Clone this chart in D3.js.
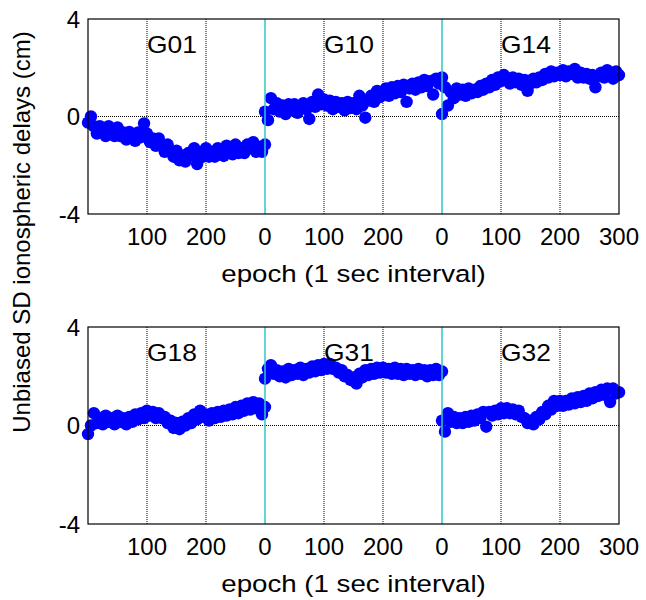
<!DOCTYPE html>
<html>
<head>
<meta charset="utf-8">
<script src="https://cdn.jsdelivr.net/npm/d3@7"></script>
<style>
  body { margin: 0; background: #fff; }
  text { font-family: "Liberation Sans", Arial, sans-serif; fill: #000; }
</style>
</head>
<body>
<div id="chart"></div>
<script>
// epochs sampled every 5 s within each 300 s satellite arc
const epochs = d3.range(0, 301, 5);

const g01 = [-0.25,0.0,-0.4,-0.7,-0.4,-0.6,-0.8,-0.4,-0.62,-0.8,
  -0.45,-0.8,-0.65,-0.95,-0.63,-0.85,-1.0,-0.65,-0.85,-0.28,
  -0.7,-1.05,-0.9,-1.2,-0.9,-1.2,-1.45,-1.15,-1.45,-1.65,
  -1.4,-1.8,-1.6,-1.85,-1.5,-1.6,-1.3,-1.95,-1.55,-1.65,
  -1.3,-1.65,-1.45,-1.65,-1.3,-1.5,-1.62,-1.2,-1.4,-1.55,
  -1.15,-1.5,-1.3,-1.5,-1.15,-1.3,-1.05,-1.45,-1.25,-1.45,-1.15];
const g10 = [0.2,-0.15,0.75,0.3,0.55,0.2,0.45,0.1,0.5,0.25,
  0.5,0.15,0.35,0.55,0.3,-0.1,0.6,0.4,0.9,0.5,
  0.7,0.45,0.65,0.3,0.6,0.4,0.55,0.25,0.6,0.35,
  0.55,0.3,0.85,0.45,-0.05,0.65,0.85,0.6,1.05,0.8,
  0.95,1.15,0.85,1.2,0.95,1.25,1.0,1.3,0.6,1.15,
  1.35,1.1,1.4,1.2,1.5,1.25,1.45,0.9,1.55,1.35,1.6];
const g14 = [0.1,1.2,0.45,1.0,0.75,1.15,0.9,1.1,0.85,1.15,
  0.95,1.1,1.0,1.25,1.1,1.35,1.2,1.5,1.3,1.6,
  1.45,1.7,1.5,1.35,1.6,1.4,1.55,1.3,1.5,1.05,
  1.35,1.55,1.4,1.6,1.5,1.75,1.6,1.85,1.65,1.8,
  1.7,1.9,1.65,1.85,1.75,1.95,1.6,1.8,1.6,1.75,
  1.55,1.7,1.2,1.65,1.8,1.6,1.9,1.75,1.55,1.85,1.7];
const g18 = [-0.35,0.0,0.5,0.1,0.3,0.05,0.4,0.15,0.3,0.05,
  0.4,0.15,0.3,0.05,0.35,0.15,0.45,0.25,0.5,0.3,
  0.6,0.4,0.55,0.3,0.5,0.3,0.35,0.1,0.2,-0.1,
  0.1,-0.15,0.15,0.0,0.3,0.1,0.45,0.25,0.6,0.35,
  0.45,0.2,0.5,0.3,0.55,0.35,0.6,0.4,0.65,0.45,
  0.75,0.5,0.8,0.6,0.9,0.65,0.95,0.7,0.9,0.45,0.75];
const g31 = [1.9,2.3,2.45,2.1,2.25,2.0,2.2,1.95,2.3,2.05,
  2.25,2.1,2.35,2.05,2.3,2.15,2.4,2.2,2.45,2.25,
  2.5,2.3,2.5,2.3,2.35,2.15,2.25,2.0,2.05,1.85,
  1.95,1.7,2.1,1.95,2.25,2.05,2.3,2.1,2.35,2.15,
  2.35,2.15,2.3,2.1,2.35,2.1,2.3,2.05,2.3,2.1,
  2.25,2.05,2.3,2.1,2.25,2.0,2.25,2.05,2.3,2.05,2.2];
const g32 = [0.2,-0.25,0.5,0.15,0.35,0.1,0.3,0.1,0.35,0.15,
  0.4,0.2,0.45,0.3,0.55,-0.05,0.55,0.4,0.6,0.45,
  0.7,0.5,0.7,0.5,0.65,0.45,0.6,0.35,0.3,0.1,
  0.2,0.05,0.35,0.25,0.55,0.45,0.8,0.65,1.0,0.8,
  1.0,0.8,1.0,0.85,1.1,0.9,1.15,0.95,1.2,1.0,
  1.3,1.1,1.35,1.2,1.45,1.25,1.5,0.95,1.5,1.3,1.35];

const topNames = ["G01", "G10", "G14"];
const bottomNames = ["G18", "G31", "G32"];
const topSeries = [g01, g10, g14];
const bottomSeries = [g18, g31, g32];

const arcLength = 300;
const xTickPos = [100, 200, 300, 400, 500, 600, 700, 800, 900];
const xTickLabels = ["100", "200", "0", "100", "200", "0", "100", "200", "300"];
const yTicks = [-4, 0, 4];

const width = 646, height = 600;
const svg = d3.select("#chart").append("svg")
  .attr("width", width)
  .attr("height", height);

const x = d3.scaleLinear().domain([0, 900]).range([88, 619]);

function drawPanel(top, bottom, names, series) {
  const y = d3.scaleLinear().domain([-4, 4]).range([bottom, top]);
  const g = svg.append("g");

  // dotted grid
  g.selectAll(".vgrid")
    .data(xTickPos.filter(d => d % arcLength !== 0))
    .join("line")
    .attr("x1", d => x(d)).attr("x2", d => x(d))
    .attr("y1", top).attr("y2", bottom)
    .attr("stroke", "#000").attr("stroke-width", 1)
    .attr("stroke-dasharray", "1,1");
  g.append("line")
    .attr("x1", x(0)).attr("x2", x(900))
    .attr("y1", y(0)).attr("y2", y(0))
    .attr("stroke", "#000").attr("stroke-width", 1)
    .attr("stroke-dasharray", "1,1");

  // satellite arcs
  series.forEach((vals, i) => {
    g.append("g").selectAll("circle")
      .data(vals)
      .join("circle")
      .attr("cx", (d, j) => x(i * arcLength + epochs[j]))
      .attr("cy", d => y(d))
      .attr("r", 6.2)
      .attr("fill", "#0000ff");
  });

  // arc separators
  [300, 600].forEach(s => {
    g.append("line")
      .attr("x1", x(s)).attr("x2", x(s))
      .attr("y1", top).attr("y2", bottom)
      .attr("stroke", "#2ec8c8").attr("stroke-width", 1.5);
  });

  // satellite labels
  names.forEach((n, i) => {
    g.append("text")
      .attr("transform", `translate(${x(i * arcLength + 100)},${y(2.6)}) scale(1.1,1)`)
      .style("font-size", "24px")
      .text(n);
  });

  // frame
  g.append("rect")
    .attr("x", x(0)).attr("y", top)
    .attr("width", x(900) - x(0)).attr("height", bottom - top)
    .attr("fill", "none").attr("stroke", "#000").attr("stroke-width", 1.2);

  // tick labels
  g.selectAll(".ytl")
    .data(yTicks)
    .join("text")
    .attr("x", 80)
    .attr("y", d => y(d))
    .attr("dy", "0.36em")
    .attr("text-anchor", "end")
    .style("font-size", "24px")
    .text(d => d);

  g.selectAll(".xtl")
    .data(xTickPos)
    .join("text")
    .attr("x", d => x(d))
    .attr("y", bottom + 31)
    .attr("text-anchor", "middle")
    .style("font-size", "24px")
    .text((d, i) => xTickLabels[i]);

  g.append("text")
    .attr("transform", `translate(${(x(0) + x(900)) / 2},${bottom + 68}) scale(1.13,1)`)
    .attr("text-anchor", "middle")
    .style("font-size", "24.5px")
    .text("epoch (1 sec interval)");
}

drawPanel(19, 214, topNames, topSeries);
drawPanel(327, 524, bottomNames, bottomSeries);

svg.append("text")
  .attr("transform", "translate(30,232) rotate(-90)")
  .attr("text-anchor", "middle")
  .style("font-size", "24px")
  .text("Unbiased SD ionospheric delays (cm)");
</script>
</body>
</html>
